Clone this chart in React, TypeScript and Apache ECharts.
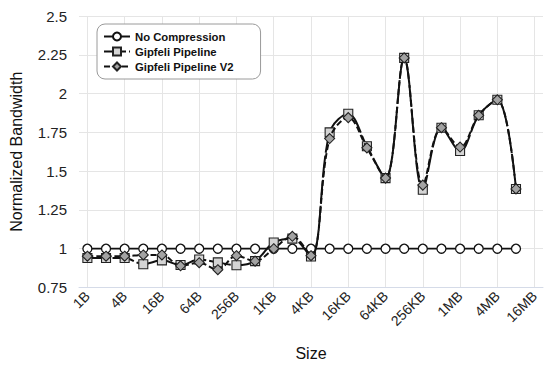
import React, { useEffect, useRef } from "react";
import * as echarts from "echarts";

const sizeLabels = [
  "1B", "2B", "4B", "8B", "16B", "32B", "64B", "128B", "256B", "512B",
  "1KB", "2KB", "4KB", "8KB", "16KB", "32KB", "64KB", "128KB", "256KB", "512KB",
  "1MB", "2MB", "4MB", "8MB", "16MB",
];
const labelTicks = [0, 2, 4, 6, 8, 10, 12, 14, 16, 18, 20, 22, 24];
const yTicks = [0.75, 1, 1.25, 1.5, 1.75, 2, 2.25, 2.5];

const noCompression = [
  1, 1, 1, 1, 1, 1, 1, 1, 1, 1, 1, 1, 1, 1, 1, 1, 1, 1, 1, 1, 1, 1, 1, 1,
];
const gipfeli = [
  0.94, 0.94, 0.94, 0.9, 0.925, 0.895, 0.93, 0.912, 0.893, 0.92, 1.04, 1.065,
  0.95, 1.75, 1.87, 1.66, 1.455, 2.23, 1.38, 1.78, 1.63, 1.86, 1.96, 1.385,
];
const gipfeliV2 = [
  0.952, 0.952, 0.952, 0.96, 0.96, 0.89, 0.91, 0.865, 0.955, 0.92, 1.0, 1.08,
  0.955, 1.71, 1.845, 1.65, 1.455, 2.23, 1.41, 1.78, 1.655, 1.86, 1.96, 1.385,
];

const FONT = "Liberation Sans";

export default function App() {
  const ref = useRef<HTMLDivElement>(null);
  useEffect(() => {
    if (!ref.current) return;
    const chart = echarts.init(ref.current, undefined, { renderer: "svg" });
    const toPairs = (arr: number[]) => arr.map((v, i) => [i, v]);
    chart.setOption({
      animation: false,
      textStyle: { fontFamily: FONT },
      grid: { left: 74, right: 7, top: 16, bottom: 84.5 },
      legend: {
        orient: "vertical",
        left: 97,
        top: 24,
        backgroundColor: "#fff",
        borderColor: "#9a9a9a",
        borderWidth: 1,
        borderRadius: 8,
        padding: [7, 27, 7, 6],
        itemGap: 4,
        itemWidth: 26,
        itemHeight: 10,
        textStyle: { fontFamily: FONT, fontSize: 11.3, fontWeight: "bold", color: "#111" },
        data: ["No Compression", "Gipfeli Pipeline", "Gipfeli Pipeline V2"],
      },
      xAxis: {
        type: "value",
        min: -0.45,
        max: 24.45,
        name: "Size",
        nameLocation: "middle",
        nameGap: 58,
        nameTextStyle: { fontFamily: FONT, fontSize: 16, color: "#111" },
        axisLine: { show: true, lineStyle: { color: "#d5dbe8", width: 1 } },
        axisTick: { show: false, customValues: labelTicks },
        axisLabel: {
          customValues: labelTicks,
          rotate: 45,
          margin: 6,
          fontFamily: FONT,
          fontSize: 14,
          color: "#222",
          formatter: (v: number) => sizeLabels[Math.round(v)] ?? "",
        },
        splitLine: { show: true, lineStyle: { color: "#e5e5e5", width: 1 } },
      },
      yAxis: {
        type: "value",
        min: 0.75,
        max: 2.5,
        interval: 0.25,
        name: "Normalized Bandwidth",
        nameLocation: "middle",
        nameGap: 55,
        nameTextStyle: { fontFamily: FONT, fontSize: 16, color: "#111" },
        axisLine: { show: false },
        axisTick: { show: false },
        axisLabel: {
          margin: 12,
          fontFamily: FONT,
          fontSize: 15,
          color: "#222",
          formatter: (v: number) => (yTicks.includes(v) ? String(v) : ""),
        },
        splitLine: { show: true, lineStyle: { color: "#e5e5e5", width: 1 } },
      },
      series: [
        {
          name: "No Compression",
          type: "line",
          data: toPairs(noCompression),
          symbol: "circle",
          symbolSize: 9,
          itemStyle: { color: "#fff", borderColor: "#111", borderWidth: 1.3 },
          lineStyle: { color: "#111", width: 1.8 },
          z: 2,
        },
        {
          name: "Gipfeli Pipeline",
          type: "line",
          data: toPairs(gipfeli),
          smooth: 0.35,
          symbol: "rect",
          symbolSize: 9,
          itemStyle: { color: "#d4d4d4", borderColor: "#222", borderWidth: 1.1 },
          lineStyle: { color: "#111", width: 2, type: [22, 3] },
          z: 3,
        },
        {
          name: "Gipfeli Pipeline V2",
          type: "line",
          data: toPairs(gipfeliV2),
          smooth: 0.35,
          symbol: "diamond",
          symbolSize: 10,
          itemStyle: { color: "#a3a3a3", borderColor: "#222", borderWidth: 1.1 },
          lineStyle: { color: "#111", width: 2, type: [6, 3] },
          z: 4,
        },
      ],
    });
    return () => chart.dispose();
  }, []);
  return (
    <div
      ref={ref}
      style={{ position: "absolute", left: 0, top: 0, width: 550, height: 372 }}
    />
  );
}
